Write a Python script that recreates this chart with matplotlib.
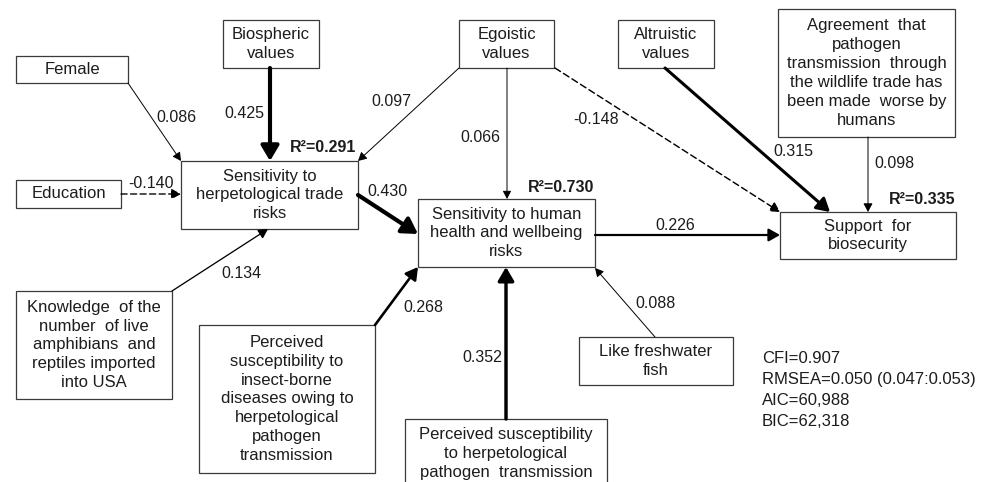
import matplotlib.pyplot as plt
from matplotlib.patches import Rectangle, FancyArrowPatch, ArrowStyle

plt.rcParams['font.family'] = ['Liberation Sans', 'DejaVu Sans']

# Noms des variables du modèle
node_keys = ["female", "bio", "ego", "alt", "agree", "edu", "herp",
             "health", "support", "know", "insect", "pathogen", "fish"]
node_text = [
    "Female",
    "Biospheric\nvalues",
    "Egoistic\nvalues",
    "Altruistic\nvalues",
    "Agreement  that\npathogen\ntransmission  through\nthe wildlife trade has\nbeen made  worse by\nhumans",
    "Education",
    "Sensitivity to\nherpetological trade\nrisks",
    "Sensitivity to human\nhealth and wellbeing\nrisks",
    "Support  for\nbiosecurity",
    "Knowledge  of the\nnumber  of live\namphibians  and\nreptiles imported\ninto USA",
    "Perceived\nsusceptibility to\ninsect-borne\ndiseases owing to\nherpetological\npathogen\ntransmission",
    "Perceived susceptibility\nto herpetological\npathogen  transmission",
    "Like freshwater\nfish",
]

# Chemins (source -> cible) et coefficients
path_from = ["female", "bio", "ego", "edu", "know", "herp", "ego", "ego",
             "alt", "agree", "health", "insect", "pathogen", "fish"]
path_to = ["herp", "herp", "herp", "herp", "herp", "health", "health", "support",
           "support", "support", "support", "health", "health", "health"]
path_coef = [0.086, 0.425, 0.097, -0.140, 0.134, 0.430, 0.066, -0.148,
             0.315, 0.098, 0.226, 0.268, 0.352, 0.088]

r2_nodes = ["herp", "health", "support"]
r2_values = [0.291, 0.730, 0.335]

fit_stats = ["CFI=0.907", "RMSEA=0.050 (0.047:0.053)", "AIC=60,988", "BIC=62,318"]

# Mise en page (pixels, y vers le bas)
boxes = {
    "female": (16, 56, 128, 83),
    "bio": (223, 20, 319, 68),
    "ego": (459, 20, 554, 68),
    "alt": (618, 20, 714, 68),
    "agree": (778, 9, 955, 137),
    "edu": (16, 180, 121, 208),
    "herp": (181, 161, 358, 229),
    "health": (418, 199, 595, 267),
    "support": (780, 212, 956, 259),
    "know": (16, 291, 172, 399),
    "insect": (199, 325, 375, 473),
    "pathogen": (405, 419, 607, 488),
    "fish": (579, 337, 733, 385),
}
arrow_start = [(128, 83), (270, 68), (459, 68), (121, 194), (172, 291), (358, 195),
               (507, 68), (555, 68), (665, 68), (868, 137), (595, 235), (375, 325),
               (506, 419), (655, 337)]
arrow_end = [(181, 161), (270, 161), (358, 161), (181, 194), (268, 229), (418, 234),
             (507, 199), (780, 212), (830, 212), (868, 212), (780, 235), (418, 267),
             (506, 267), (595, 268)]
label_pos = [(176, 117), (244, 114), (391, 101), (151, 184), (241, 273), (387, 191),
             (480, 137), (596, 120), (793, 152), (894, 163), (675, 226), (423, 308),
             (482, 358), (655, 303)]
r2_pos = [(323, 148), (561, 188), (922, 199)]

fig = plt.figure(figsize=(9.9, 4.82), dpi=100)
ax = fig.add_axes([0, 0, 1, 1])
ax.set_xlim(0, 990)
ax.set_ylim(482, 0)
ax.axis("off")

txt_color = "#1c1c1c"

# Boîtes
for key, label in zip(node_keys, node_text):
    x0, y0, x1, y1 = boxes[key]
    ax.add_patch(Rectangle((x0, y0), x1 - x0, y1 - y0, facecolor="white",
                           edgecolor="#3a3a3a", lw=0.9, zorder=2))
    ax.text((x0 + x1) / 2, (y0 + y1) / 2, label, ha="center", va="center",
            multialignment="center", fontsize=12, linespacing=1.32,
            color=txt_color, zorder=3)

# Flèches
for i, c in enumerate(path_coef):
    w = max(0.7, 7 * abs(c))
    style = ArrowStyle("-|>", head_length=4 + 12 * abs(c), head_width=2 + 8 * abs(c))
    ls = (0, (4.5, 2.5)) if c < 0 else "-"
    arr = FancyArrowPatch(arrow_start[i], arrow_end[i], arrowstyle=style,
                          mutation_scale=1, lw=w, linestyle=ls, color="black",
                          shrinkA=0, shrinkB=0, zorder=4)
    ax.add_patch(arr)
    ax.text(label_pos[i][0], label_pos[i][1], f"{c:.3f}", ha="center", va="center",
            fontsize=11.5, color=txt_color, zorder=5)

# R²
for key, r2, pos in zip(r2_nodes, r2_values, r2_pos):
    ax.text(pos[0], pos[1], f"R²={r2:.3f}", ha="center", va="center",
            fontsize=11.5, fontweight="bold", color=txt_color)

# Indices d'ajustement
ax.text(762, 351, "\n".join(fit_stats), ha="left", va="top", fontsize=12,
        linespacing=1.5, color=txt_color)

plt.savefig("out.png", dpi=100)
plt.close()
